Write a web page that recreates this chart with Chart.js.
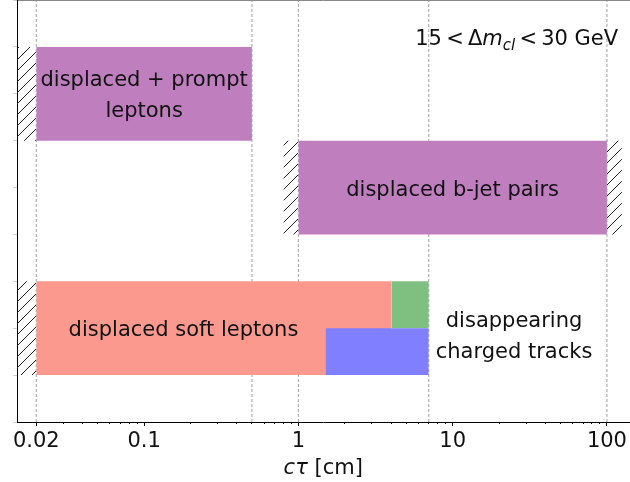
<!DOCTYPE html>
<html>
<head>
<meta charset="utf-8">
<script src="https://cdn.jsdelivr.net/npm/chart.js@4.4.1/dist/chart.umd.min.js"></script>
<style>
  html, body { margin: 0; padding: 0; background: #ffffff; }
  canvas { display: block; }
</style>
</head>
<body>
<canvas id="chart" width="630" height="482"></canvas>
<script>
// c-tau ranges (cm) probed by each search, and the vertical band each occupies
const searchNames = ['displaced + prompt leptons', 'displaced b-jet pairs', 'displaced soft leptons', 'disappearing tracks (upper)', 'disappearing tracks (lower)'];
const ctauFrom  = [0.02, 1,   0.02, 4, 1.5];
const ctauTo    = [0.5,  100, 4,    7, 7];
const bandLow   = [6, 4, 1, 2, 1];
const bandHigh  = [8, 6, 3, 3, 2];
const bandColors = ['#bf7fbf', '#bf7fbf', '#fb998e', '#7fbf7f', '#7f7fff'];

// hatched edges of the covered ranges
const hatchFrom = [0.015, 0.8, 100, 0.015];
const hatchTo   = [0.02,  1,   125, 0.02];
const hatchLow  = [6, 4, 4, 1];
const hatchHigh = [8, 6, 6, 3];

// dashed vertical guides at the range edges
const guideValues = [0.02, 0.5, 1, 7, 100];

// labelled x ticks
const tickValues = [0.02, 0.1, 1, 10, 100];
const tickLabels = ['0.02', '0.1', '1', '10', '100'];

// text written inside the plot
const noteLines = [['displaced + prompt', 'leptons'], ['displaced b-jet pairs'], ['displaced soft leptons'], ['disappearing', 'charged tracks']];
const noteX = [0.1, 10, 0.18, 25];
const noteY = [7, 5, 2, 1.86];

const X_MIN = 0.015, X_MAX = 140, Y_MIN = 0, Y_MAX = 9;
const FONT = '"DejaVu Sans", "Liberation Sans", sans-serif';
const FS = 21;

// unlabelled minor ticks of the log axis
const minorTicks = [];
for (let e = -2; e <= 1; e++) {
  for (let m = 2; m <= 9; m++) minorTicks.push(m * Math.pow(10, e));
}

function makeHatch() {
  const s = 11;
  const c = document.createElement('canvas');
  c.width = s; c.height = s;
  const g = c.getContext('2d');
  g.strokeStyle = '#222';
  g.lineWidth = 1;
  g.beginPath();
  g.moveTo(0, s); g.lineTo(s, 0);
  g.moveTo(-2, 2); g.lineTo(2, -2);
  g.moveTo(s - 2, s + 2); g.lineTo(s + 2, s - 2);
  g.stroke();
  return g.createPattern(c, 'repeat');
}
const hatch = makeHatch();

const datasets = [];

// coloured bands: a flat line at the band top filled down to the band bottom
ctauFrom.forEach((from, i) => {
  datasets.push({
    label: searchNames[i],
    data: [{ x: from, y: bandHigh[i] }, { x: ctauTo[i], y: bandHigh[i] }],
    fill: { value: bandLow[i] },
    backgroundColor: bandColors[i],
    borderColor: 'transparent',
    borderWidth: 0,
    pointRadius: 0,
    order: ctauFrom.length - i
  });
});

hatchFrom.forEach((from, i) => {
  datasets.push({
    label: 'hatch ' + i,
    data: [{ x: from, y: hatchHigh[i] }, { x: hatchTo[i], y: hatchHigh[i] }],
    fill: { value: hatchLow[i] },
    backgroundColor: hatch,
    borderColor: 'transparent',
    borderWidth: 0,
    pointRadius: 0,
    order: 20
  });
});

guideValues.forEach((v, i) => {
  datasets.push({
    label: 'guide ' + i,
    data: [{ x: v, y: Y_MIN }, { x: v, y: Y_MAX }],
    fill: false,
    borderColor: '#8a8a8a',
    borderWidth: 0.8,
    borderDash: [3, 2],
    pointRadius: 0,
    order: 30
  });
});

const textPlugin = {
  id: 'plotText',
  afterDraw(chart) {
    const { ctx, scales: { x, y }, chartArea } = chart;
    ctx.save();
    ctx.fillStyle = '#111';
    ctx.textBaseline = 'alphabetic';

    // band labels
    ctx.textAlign = 'center';
    ctx.font = FS + 'px ' + FONT;
    const lh = 31;
    noteLines.forEach((lines, i) => {
      const px = x.getPixelForValue(noteX[i]);
      const py = y.getPixelForValue(noteY[i]);
      const top = py - (lines.length - 1) * lh / 2;
      lines.forEach((t, j) => ctx.fillText(t, px, top + j * lh + 0.38 * FS));
    });

    // mass-splitting label: 15 < Δm_cl < 30 GeV (thin spaces around the relations)
    const parts = [
      { t: '15\u2009<\u2009Δ', f: FS + 'px ' + FONT, dy: 0 },
      { t: 'm', f: 'italic ' + FS + 'px ' + FONT, dy: 0 },
      { t: 'cl', f: 'italic ' + Math.round(FS * 0.7) + 'px ' + FONT, dy: 0.22 * FS },
      { t: '\u2009<\u200930 GeV', f: FS + 'px ' + FONT, dy: 0 }
    ];
    let total = 0;
    parts.forEach(p => { ctx.font = p.f; p.w = ctx.measureText(p.t).width; total += p.w; });
    let cx = x.getPixelForValue(26) - total / 2;
    const by = y.getPixelForValue(8.2) + 0.38 * FS;
    ctx.textAlign = 'left';
    parts.forEach(p => { ctx.font = p.f; ctx.fillText(p.t, cx, by + p.dy); cx += p.w; });

    // x-axis title: cτ [cm]
    const tParts = [
      { t: 'cτ', f: 'italic ' + FS + 'px ' + FONT },
      { t: ' [cm]', f: FS + 'px ' + FONT }
    ];
    total = 0;
    tParts.forEach(p => { ctx.font = p.f; p.w = ctx.measureText(p.t).width; total += p.w; });
    cx = (chartArea.left + chartArea.right) / 2 - total / 2;
    const ty = chartArea.bottom + 52;
    tParts.forEach(p => { ctx.font = p.f; ctx.fillText(p.t, cx, ty); cx += p.w; });
    ctx.restore();
  }
};

new Chart(document.getElementById('chart'), {
  type: 'line',
  data: { datasets },
  options: {
    responsive: false,
    animation: false,
    devicePixelRatio: 1,
    layout: { padding: { top: 0, right: 0, bottom: 0, left: 0 } },
    elements: { line: { tension: 0 } },
    plugins: { legend: { display: false }, tooltip: { enabled: false } },
    scales: {
      x: {
        type: 'logarithmic',
        position: 'bottom',
        weight: 1,
        min: X_MIN,
        max: X_MAX,
        afterBuildTicks: s => { s.ticks = tickValues.map(v => ({ value: v, major: true })); },
        afterFit: s => { s.height = 60; },
        ticks: {
          callback: v => { const i = tickValues.indexOf(v); return i < 0 ? '' : tickLabels[i]; },
          font: { family: FONT, size: FS },
          color: '#111',
          maxRotation: 0,
          autoSkip: false,
          padding: 3
        },
        grid: { drawOnChartArea: false, tickLength: 4, tickColor: '#000', tickWidth: 1 },
        border: { color: '#000', width: 1 }
      },
      xMinor: {
        axis: 'x',
        type: 'logarithmic',
        position: 'bottom',
        weight: 0,
        min: X_MIN,
        max: X_MAX,
        afterBuildTicks: s => { s.ticks = minorTicks.map(v => ({ value: v })); },
        afterFit: s => { s.height = 0; },
        ticks: { display: false },
        grid: { drawOnChartArea: false, tickLength: 2, tickColor: '#000', tickWidth: 1 },
        border: { display: false }
      },
      xTop: {
        axis: 'x',
        type: 'linear',
        position: 'top',
        afterFit: s => { s.height = 0; },
        ticks: { display: false },
        grid: { display: false, drawTicks: false },
        border: { color: '#888', width: 1 }
      },
      y: {
        type: 'linear',
        min: Y_MIN,
        max: Y_MAX,
        afterFit: s => { s.width = 17; },
        ticks: { display: false, stepSize: 1 },
        grid: { drawOnChartArea: false, tickLength: 4, tickColor: '#d0d0d0' },
        border: { color: '#000', width: 1 }
      }
    }
  },
  plugins: [textPlugin]
});
</script>
</body>
</html>
